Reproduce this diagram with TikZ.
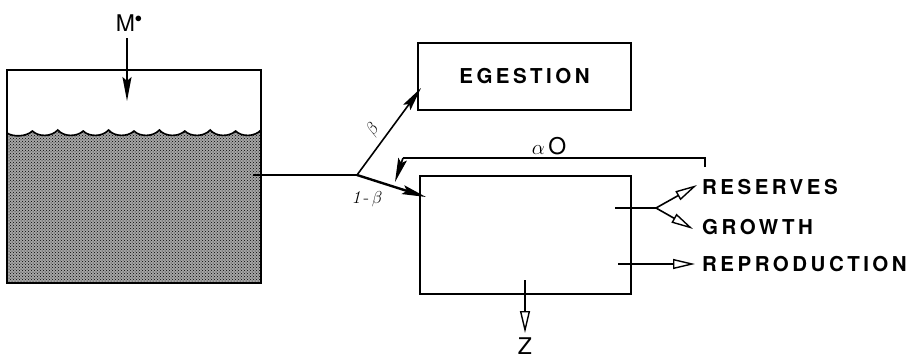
\documentclass[tikz,border=0pt]{standalone}
\usepackage{fontspec}
\usetikzlibrary{arrows.meta,patterns}
\newfontfamily\labfam[LetterSpace=17]{TeX Gyre Heros}
\newfontfamily\plainfam{TeX Gyre Heros}
\newcommand\labfont{\labfam\bfseries\fontsize{20.5}{22}\selectfont}
\newcommand\bigfont{\plainfam\fontsize{23}{25}\selectfont}
\tikzset{
  box/.style={draw, line width=1.7pt, inner sep=0pt},
  ln/.style={line width=1.6pt},
  farrow/.style={ln, -{Stealth[length=24pt,width=9pt,inset=4pt]}},
  oarrow/.style={ln, -{Triangle[open,length=22pt,width=10pt,fill=white,line width=1.4pt]}},
  lab/.style={font=\labfont, anchor=west, inner sep=0pt},
  big/.style={font=\bigfont, inner sep=0pt},
  greek/.style={font=\fontsize{18}{20}\selectfont, inner sep=0pt},
}
\begin{document}
\begin{tikzpicture}[x=1pt,y=-1pt]
\useasboundingbox (0,0) rectangle (907,359);
% tank
\fill[gray!70] (7,133)
  \foreach \i in {0,...,9}{ .. controls ({7+25.4*\i+6},137) and ({7+25.4*\i+19},137) .. ({7+25.4*(\i+1)},{131-mod(\i,2)}) }
  -- (261,283) -- (7,283) -- cycle;
\fill[pattern=crosshatch dots, pattern color=black] (7,133)
  \foreach \i in {0,...,9}{ .. controls ({7+25.4*\i+6},137) and ({7+25.4*\i+19},137) .. ({7+25.4*(\i+1)},{131-mod(\i,2)}) }
  -- (261,283) -- (7,283) -- cycle;
\draw[ln] (7,133)
  \foreach \i in {0,...,9}{ .. controls ({7+25.4*\i+6},137) and ({7+25.4*\i+19},137) .. ({7+25.4*(\i+1)},{131-mod(\i,2)}) };
\draw[line width=1.7pt] (7,70) rectangle (261,283);
% M*
\node[big] (m) at (129,23) {M\raisebox{0.4em}{\fontsize{15}{15}\selectfont$\bullet$}};
\coordinate (min) at (127,101);
\draw[farrow] (127,38) -- (min);
% boxes
\node[box, minimum width=213pt, minimum height=67pt] (eg) at (524.5,76.5) {\labfont EGESTION};
\node[box, minimum width=211pt, minimum height=118pt] (org) at (525.5,235) {};
% outflow
\coordinate (out) at (253,175);
\coordinate (j) at (357,175);
\coordinate (egin) at (421,88);
\coordinate (orgin) at (426,197);
\draw[line width=2.8pt] (out) -- (j);
\draw[farrow] (j) -- (egin);
\draw[farrow, line width=2.4pt] (j) -- (orgin);
\node[greek, rotate=53] (b) at (373,130) {$\beta$};
\node[greek] (b1) at (367,199) {\textit{1}\,-\,$\beta$};
% feedback alpha O
\coordinate (fbr) at (705,167);
\coordinate (fbl) at (403,158);
\coordinate (fbt) at (395,182);
\draw[ln] (fbr) -- (705,158) -- (fbl);
\draw[farrow] (fbl) -- (fbt);
\node[inner sep=0pt] (ao) at (549,146) {\fontsize{20}{22}\selectfont$\alpha$\,\bigfont O};
% right outputs
\coordinate (r0) at (615,208);
\coordinate (rj) at (656,208);
\coordinate (rr) at (697,185);
\coordinate (rg) at (693,229);
\coordinate (p0) at (618,264);
\coordinate (pp) at (695,264);
\draw[ln] (r0) -- (rj);
\draw[oarrow] (rj) -- (rr);
\draw[oarrow] (rj) -- (rg);
\draw[oarrow] (p0) -- (pp);
\node[lab] (res) at (702,187) {RESERVES};
\node[lab] (gro) at (702,227) {GROWTH};
\node[lab] (rep) at (702,264) {REPRODUCTION};
% Z
\coordinate (z0) at (525,280);
\coordinate (z1) at (525,333);
\draw[oarrow] (z0) -- (z1);
\node[big] (z) at (525,346) {Z};
\end{tikzpicture}
\end{document}
